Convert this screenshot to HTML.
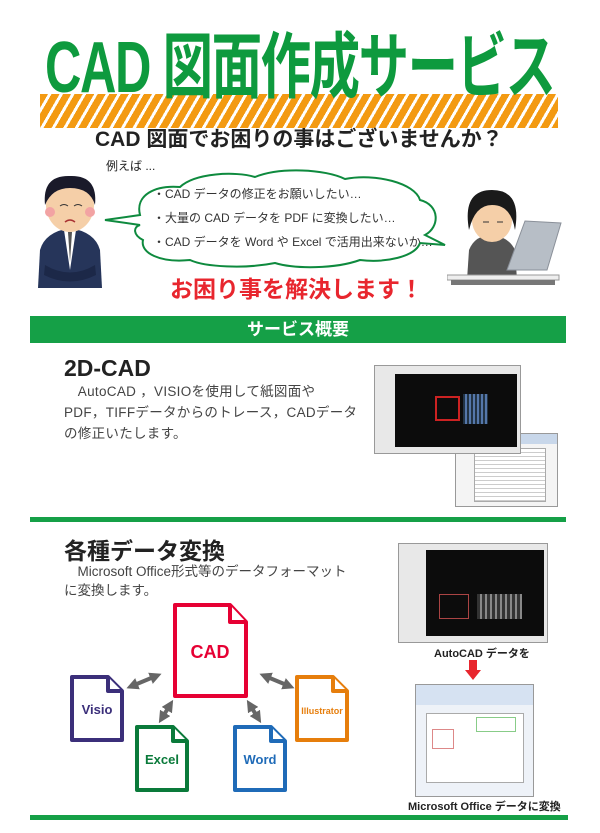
<!DOCTYPE html>
<html><head><meta charset="utf-8"><style>
*{margin:0;padding:0;box-sizing:border-box}
body{width:600px;height:833px;background:#fff;position:relative;overflow:hidden;font-family:"Liberation Sans","Noto Sans CJK JP",sans-serif;color:#222}
.a{position:absolute;white-space:nowrap}
.scr{position:absolute;border:1px solid #999;background:#e8e8e8}
</style></head><body>
<!-- title -->
<div class="a" style="left:40px;top:94px;width:518px;height:34px;background:repeating-linear-gradient(120deg,#f39a12 0 7px,#fff 7px 10px)"></div>
<div class="a" style="left:45px;top:30px;font-size:72px;font-weight:bold;color:#0e9a3e;letter-spacing:-2px;transform:scaleX(0.70);transform-origin:left;line-height:76px">CAD 図面作成サービス</div>
<div class="a" style="left:95px;top:123px;font-size:21px;font-weight:bold;color:#222">CAD 図面でお困りの事はございませんか？</div>
<div class="a" style="left:106px;top:157px;font-size:12px">例えば ...</div>
<!-- cloud -->
<svg class="a" style="left:95px;top:165px" width="355" height="105">
<path d="M10 55 L45 50 C40 30 60 20 85 22 C100 8 140 6 160 12 C185 2 230 4 250 14 C280 8 320 18 325 35 C345 40 345 62 330 70 L350 80 L325 78 C320 92 290 98 265 95 C240 104 200 104 180 98 C150 104 110 102 95 95 C65 98 45 88 48 75 C38 70 38 62 45 60 Z" fill="#fff" stroke="#0e8a3e" stroke-width="2"/>
</svg>
<div class="a" style="left:153px;top:182px;font-size:12px;line-height:24px;color:#333">・CAD データの修正をお願いしたい…<br>・大量の CAD データを PDF に変換したい…<br>・CAD データを Word や Excel で活用出来ないか…</div>
<!-- man -->
<svg class="a" style="left:30px;top:170px" width="80" height="120">
<path d="M8 118 L10 80 Q15 62 40 58 Q65 62 70 80 L72 118Z" fill="#26355a"/>
<path d="M34 60 L40 100 L46 60Z" fill="#fff"/><path d="M38 62 L40 92 L42 62Z" fill="#555"/>
<path d="M15 95 Q40 110 65 95 L66 105 Q40 118 14 105Z" fill="#1c2848"/>
<ellipse cx="40" cy="35" rx="24" ry="27" fill="#f5cfa8"/>
<path d="M15 35 Q12 5 40 6 Q68 5 65 35 Q60 18 40 18 Q22 18 15 35Z" fill="#1a1a2a"/>
<circle cx="20" cy="42" r="5" fill="#f2a3a3"/><circle cx="60" cy="42" r="5" fill="#f2a3a3"/>
<path d="M30 36 q4 -3 8 0 M44 36 q4 -3 8 0" stroke="#333" fill="none"/>
<path d="M35 52 q5 -4 10 0" stroke="#a33" fill="none" stroke-width="1.5"/>
</svg>
<!-- woman -->
<svg class="a" style="left:447px;top:185px" width="115" height="100">
<path d="M20 95 L22 65 Q28 50 45 50 Q62 52 68 65 L70 95Z" fill="#555"/>
<ellipse cx="45" cy="35" rx="20" ry="22" fill="#f5cfa8"/>
<path d="M22 45 Q15 5 45 5 Q75 5 68 45 Q64 20 45 20 Q28 20 22 45Z" fill="#1a1a1a"/>
<path d="M36 37 h6 M50 37 h6" stroke="#333"/>
<path d="M60 85 L78 36 L114 38 L100 85Z" fill="#b7bec6" stroke="#8a9099"/>
<rect x="0" y="90" width="112" height="5" fill="#eee" stroke="#999"/>
<rect x="4" y="95" width="104" height="8" fill="#777"/>
</svg>
<div class="a" style="left:170px;top:270px;font-size:23px;font-weight:bold;color:#e8262e">お困り事を解決します！</div>
<!-- service bar -->
<div class="a" style="left:30px;top:316px;width:536px;height:27px;background:#15a047;color:#fff;font-size:17px;font-weight:bold;text-align:center;line-height:27px">サービス概要</div>
<div class="a" style="left:64px;top:355px;font-size:23px;font-weight:bold;color:#222">2D-CAD</div>
<div class="a" style="left:64px;top:381px;font-size:13.5px;line-height:21px;color:#444;letter-spacing:0.3px">　AutoCAD ，VISIOを使用して紙図面や<br>PDF，TIFFデータからのトレース，CADデータ<br>の修正いたします。</div>
<div class="scr" style="left:455px;top:433px;width:103px;height:74px;background:#f4f4f4"><div style="position:absolute;left:0;top:0;right:0;height:10px;background:#c8d7ea"></div><div style="position:absolute;left:18px;top:14px;width:72px;height:54px;background:#fff;border:1px solid #aaa;background-image:repeating-linear-gradient(#fff 0 3px,#ccc 3px 4px)"></div></div>
<div class="scr" style="left:374px;top:365px;width:147px;height:89px"><div style="position:absolute;left:20px;top:8px;right:3px;bottom:6px;background:#0c0c0c"></div><div style="position:absolute;left:60px;top:30px;width:25px;height:25px;border:2px solid #c22"></div><div style="position:absolute;left:88px;top:28px;width:25px;height:30px;background:repeating-linear-gradient(90deg,#234 0 2px,#57a 2px 4px)"></div></div>
<div class="a" style="left:30px;top:517px;width:536px;height:5px;background:#15a047"></div>
<div class="a" style="left:64px;top:532px;font-size:23px;font-weight:bold;color:#222">各種データ変換</div>
<div class="a" style="left:64px;top:562px;font-size:13.5px;line-height:19px;color:#444">　Microsoft Office形式等のデータフォーマット<br>に変換します。</div>
<!-- right screens -->
<div class="scr" style="left:398px;top:543px;width:150px;height:100px"><div style="position:absolute;left:27px;top:6px;right:3px;bottom:6px;background:#0c0c0c"></div><div style="position:absolute;left:40px;top:50px;width:30px;height:25px;border:1px solid #a44"></div><div style="position:absolute;left:78px;top:50px;width:45px;height:25px;background:repeating-linear-gradient(90deg,#333 0 3px,#888 3px 5px)"></div></div>
<div class="a" style="left:434px;top:645px;font-size:11px;font-weight:bold;color:#222">AutoCAD データを</div>
<svg class="a" style="left:465px;top:660px" width="16" height="20"><path d="M4 0h8v10h4l-8 10l-8-10h4z" fill="#e8262e"/></svg>
<div class="scr" style="left:415px;top:684px;width:119px;height:113px;background:#eef2f8"><div style="position:absolute;left:0;top:0;right:0;height:20px;background:#d6e2f2"></div><div style="position:absolute;left:10px;top:28px;width:98px;height:70px;background:#fff;border:1px solid #aaa"></div><div style="position:absolute;left:16px;top:44px;width:22px;height:20px;border:1px solid #d88"></div><div style="position:absolute;left:60px;top:32px;width:40px;height:15px;border:1px solid #8c8"></div></div>
<div class="a" style="left:408px;top:798px;font-size:11px;font-weight:bold;color:#222">Microsoft Office データに変換</div>
<!-- docs -->
<svg class="a" style="left:60px;top:600px" width="300" height="210">
<defs><marker id="m" viewBox="0 0 10 10" refX="5" refY="5" markerWidth="3" markerHeight="3" orient="auto-start-reverse"><path d="M0 0L10 5L0 10z" fill="#666"/></marker></defs>
<g stroke="#666" stroke-width="4" marker-start="url(#m)" marker-end="url(#m)">
<line x1="72" y1="86" x2="96" y2="76"/>
<line x1="102" y1="118" x2="110" y2="105"/>
<line x1="190" y1="105" x2="198" y2="118"/>
<line x1="205" y1="76" x2="229" y2="86"/>
</g>
<g fill="#fff" stroke-width="4" stroke-linejoin="round">
<path d="M115 5 H170 L186 22 V96 H115Z" stroke="#e60033"/><path d="M170 5 V22 H186" stroke="#e60033"/>
<path d="M12 77 H48 L62 91 V140 H12Z" stroke="#3b2f7a"/><path d="M48 77 V91 H62" stroke="#3b2f7a"/>
<path d="M77 127 H113 L127 141 V190 H77Z" stroke="#0a7a3a"/><path d="M113 127 V141 H127" stroke="#0a7a3a"/>
<path d="M175 127 H211 L225 141 V190 H175Z" stroke="#1f6bb8"/><path d="M211 127 V141 H225" stroke="#1f6bb8"/>
<path d="M237 77 H273 L287 91 V140 H237Z" stroke="#e67e0c"/><path d="M273 77 V91 H287" stroke="#e67e0c"/>
</g>
<g font-family="Liberation Sans,sans-serif" font-weight="bold" text-anchor="middle">
<text x="150" y="58" font-size="18" fill="#e60033">CAD</text>
<text x="37" y="114" font-size="13" fill="#3b2f7a">Visio</text>
<text x="102" y="164" font-size="13" fill="#0a7a3a">Excel</text>
<text x="200" y="164" font-size="13" fill="#1f6bb8">Word</text>
<text x="262" y="114" font-size="9" fill="#e67e0c">Illustrator</text>
</g>
</svg>
<div class="a" style="left:30px;top:815px;width:538px;height:5px;background:#15a047"></div>
</body></html>
